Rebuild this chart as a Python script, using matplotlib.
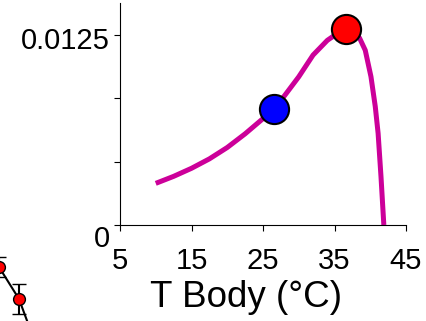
import matplotlib
matplotlib.use("Agg")
import matplotlib.pyplot as plt
import matplotlib.transforms as mtransforms

plt.rcParams['font.family'] = ['Liberation Sans', 'DejaVu Sans']

# Thermal performance curve: rate vs body temperature
t_body = [10, 12.5, 15, 17.5, 20, 22.5, 25, 26.5, 28, 30, 32, 34, 36, 36.6,
          37.5, 38.5, 39.3, 40.1, 40.7, 41.1, 41.5, 41.9]
rate = [0.00274, 0.00320, 0.00373, 0.00435, 0.00510, 0.00600, 0.00700,
        0.00761, 0.00850, 0.00975, 0.01118, 0.01215, 0.01280, 0.01290,
        0.01282, 0.01230, 0.01150, 0.00976, 0.00780, 0.00603, 0.00320, 0.0]

# Highlighted temperatures
blue_t, blue_rate = 26.5, 0.00761
red_t, red_rate = 36.6, 0.01287

x_ticks = [5, 15, 25, 35, 45]
y_major = [0, 0.0125]
y_minor = [0.0125 / 3, 2 * 0.0125 / 3]

# Neighbouring panel (partly cut off at the lower left)
side_x = [20, 25, 30, 34.25]
side_y = [0.60, 0.39, 0.23, 0.0]
side_err = [0.05, 0.052, 0.075, 0.06]

W, H = 426, 321
fig = plt.figure(figsize=(W / 100, H / 100), dpi=100)

ax = fig.add_axes([120 / W, (H - 225) / H, (406 - 120) / W, (225 - 3) / H])
ax.plot(t_body, rate, color='#CC0099', lw=3.6, solid_capstyle='butt', zorder=2)
ax.plot([blue_t], [blue_rate], 'o', ms=21, mfc='#0000FF', mec='black', mew=1.5, zorder=3)
ax.plot([red_t], [red_rate], 'o', ms=21, mfc='#FF0000', mec='black', mew=1.5, zorder=3)

ax.set_xlim(5, 45)
ax.set_ylim(0, 0.0125 * 222 / 190)
ax.set_xticks(x_ticks)
ax.set_xticklabels([str(v) for v in x_ticks])
ax.set_yticks(y_major)
ax.set_yticklabels(['0', '0.0125'])
ax.set_yticks(y_minor, minor=True)
ax.spines['top'].set_visible(False)
ax.spines['right'].set_visible(False)
for s in ['left', 'bottom']:
    ax.spines[s].set_linewidth(0.8)
ax.tick_params(axis='both', which='both', direction='out', length=4, width=0.8,
               labelsize=21)
ax.tick_params(axis='x', pad=11.5)
ax.tick_params(axis='y', pad=3.5)

# y labels sit slightly below their ticks
for lbl, dy in zip(ax.get_yticklabels(), [-11, -3]):
    lbl.set_transform(lbl.get_transform() +
                      mtransforms.ScaledTranslation(0, dy / 100, fig.dpi_scale_trans))

ax.set_xlabel('T Body (°C)', fontsize=26.5)
ax.xaxis.set_label_coords((246 - 120) / 286, -0.246)

# Side panel
ax2 = fig.add_axes([-101 / W, (H - 345) / H, 160 / W, 200 / H])
ax2.errorbar(side_x, side_y, yerr=side_err, color='black', lw=1.5, capsize=5,
             capthick=1.5, marker='o', ms=8.5, mfc='#FF0000', mec='black', mew=1)
ax2.set_xlim(0, 40)
ax2.set_ylim(0, 1)
ax2.axis('off')

fig.savefig('out.png', dpi=100)
